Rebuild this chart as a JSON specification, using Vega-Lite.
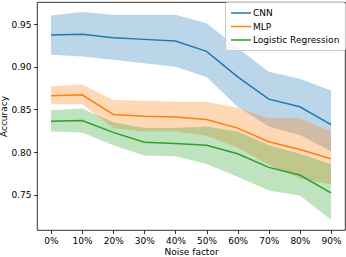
{
  "$schema": "https://vega.github.io/schema/vega-lite/v6.json",
  "width": 308,
  "height": 228,
  "autosize": "none",
  "padding": {"left": 37, "top": 2, "right": 1, "bottom": 27},
  "background": "white",
  "config": {
    "font": "DejaVu Sans",
    "view": {"stroke": "#000", "strokeWidth": 0.8},
    "axis": {"domain": false, "grid": false, "tickColor": "#000", "tickWidth": 0.8, "tickSize": 3.5, "labelFontSize": 9, "labelColor": "#000", "titleFontSize": 9, "titleFontWeight": "normal", "titleColor": "#000", "labelPadding": 2.5},
    "legend": {"title": null, "orient": "top-right", "offset": 0, "labelFontSize": 9, "labelColor": "#000", "symbolType": "M-1,0H3", "symbolSize": 100, "symbolStrokeWidth": 1.5, "symbolOpacity": 1, "symbolFillColor": "transparent", "rowPadding": 2.5, "strokeColor": "#ccc", "fillColor": "rgba(255,255,255,0.8)", "cornerRadius": 2, "padding": 5, "labelOffset": 11}
  },
  "data": {"values": [
    {"model": "CNN", "noise": 0, "mean": 0.937, "lo": 0.914, "hi": 0.960},
    {"model": "CNN", "noise": 10, "mean": 0.938, "lo": 0.912, "hi": 0.964},
    {"model": "CNN", "noise": 20, "mean": 0.934, "lo": 0.908, "hi": 0.961},
    {"model": "CNN", "noise": 30, "mean": 0.932, "lo": 0.904, "hi": 0.961},
    {"model": "CNN", "noise": 40, "mean": 0.930, "lo": 0.900, "hi": 0.961},
    {"model": "CNN", "noise": 50, "mean": 0.918, "lo": 0.888, "hi": 0.951},
    {"model": "CNN", "noise": 60, "mean": 0.888, "lo": 0.853, "hi": 0.922},
    {"model": "CNN", "noise": 70, "mean": 0.862, "lo": 0.830, "hi": 0.894},
    {"model": "CNN", "noise": 80, "mean": 0.853, "lo": 0.820, "hi": 0.886},
    {"model": "CNN", "noise": 90, "mean": 0.832, "lo": 0.801, "hi": 0.872},
    {"model": "MLP", "noise": 0, "mean": 0.866, "lo": 0.856, "hi": 0.877},
    {"model": "MLP", "noise": 10, "mean": 0.867, "lo": 0.856, "hi": 0.879},
    {"model": "MLP", "noise": 20, "mean": 0.844, "lo": 0.828, "hi": 0.861},
    {"model": "MLP", "noise": 30, "mean": 0.842, "lo": 0.824, "hi": 0.860},
    {"model": "MLP", "noise": 40, "mean": 0.841, "lo": 0.824, "hi": 0.859},
    {"model": "MLP", "noise": 50, "mean": 0.838, "lo": 0.819, "hi": 0.859},
    {"model": "MLP", "noise": 60, "mean": 0.828, "lo": 0.805, "hi": 0.852},
    {"model": "MLP", "noise": 70, "mean": 0.812, "lo": 0.785, "hi": 0.8395},
    {"model": "MLP", "noise": 80, "mean": 0.803, "lo": 0.769, "hi": 0.8395},
    {"model": "MLP", "noise": 90, "mean": 0.792, "lo": 0.762, "hi": 0.824},
    {"model": "Logistic Regression", "noise": 0, "mean": 0.836, "lo": 0.824, "hi": 0.849},
    {"model": "Logistic Regression", "noise": 10, "mean": 0.837, "lo": 0.823, "hi": 0.851},
    {"model": "Logistic Regression", "noise": 20, "mean": 0.823, "lo": 0.808, "hi": 0.835},
    {"model": "Logistic Regression", "noise": 30, "mean": 0.8115, "lo": 0.796, "hi": 0.828},
    {"model": "Logistic Regression", "noise": 40, "mean": 0.810, "lo": 0.795, "hi": 0.828},
    {"model": "Logistic Regression", "noise": 50, "mean": 0.808, "lo": 0.786, "hi": 0.830},
    {"model": "Logistic Regression", "noise": 60, "mean": 0.798, "lo": 0.771, "hi": 0.824},
    {"model": "Logistic Regression", "noise": 70, "mean": 0.782, "lo": 0.755, "hi": 0.808},
    {"model": "Logistic Regression", "noise": 80, "mean": 0.773, "lo": 0.749, "hi": 0.798},
    {"model": "Logistic Regression", "noise": 90, "mean": 0.752, "lo": 0.7205, "hi": 0.786}
  ]},
  "encoding": {
    "x": {"field": "noise", "type": "quantitative", "title": "Noise factor",
      "scale": {"domain": [-4.5, 94.5], "nice": false, "zero": false},
      "axis": {"values": [0, 10, 20, 30, 40, 50, 60, 70, 80, 90], "labelExpr": "datum.value + '%'", "titlePadding": 2}}
  },
  "layer": [
    {
      "mark": {"type": "area", "opacity": 0.3},
      "encoding": {
        "y": {"field": "lo", "type": "quantitative", "title": "Accuracy",
          "scale": {"domain": [0.7086, 0.9758], "nice": false, "zero": false},
          "axis": {"values": [0.75, 0.8, 0.85, 0.9, 0.95], "format": ".2f", "titlePadding": 2}},
        "y2": {"field": "hi"},
        "color": {"field": "model", "type": "nominal",
          "scale": {"domain": ["CNN", "MLP", "Logistic Regression"], "range": ["#1f77b4", "#ff7f0e", "#2ca02c"]}}
      }
    },
    {
      "mark": {"type": "line", "strokeWidth": 1.5},
      "encoding": {
        "y": {"field": "mean", "type": "quantitative"},
        "color": {"field": "model", "type": "nominal"}
      }
    }
  ]
}
